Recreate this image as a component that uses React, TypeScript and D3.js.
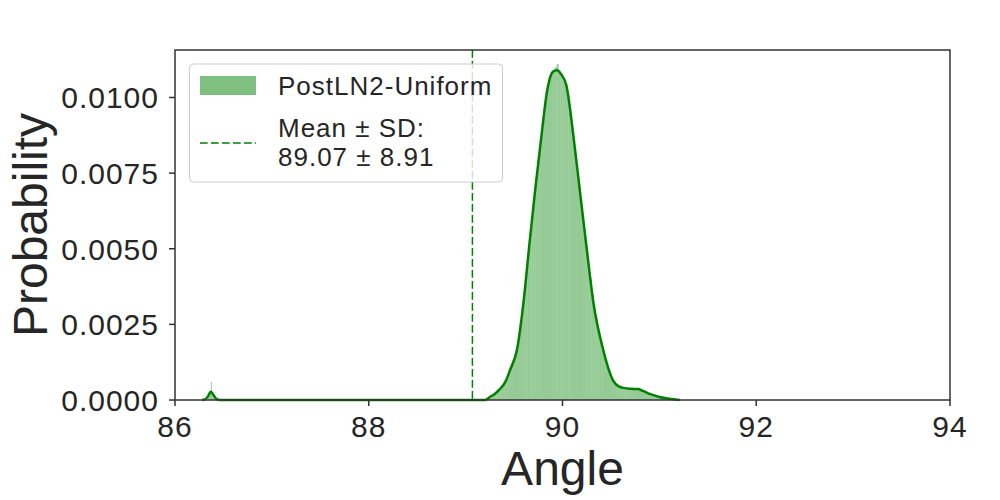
import React from "react";
import * as d3 from "d3";

// KDE curve (angle, density)
const kdeX = [
  86.28, 86.31, 86.34, 86.36, 86.37, 86.39, 86.41, 86.43, 86.46,
  89.2, 89.25, 89.3, 89.35, 89.41, 89.46, 89.53, 89.6, 89.66, 89.72, 89.785, 89.84, 89.9, 89.94,
  89.99, 90.04, 90.11, 90.18, 90.25, 90.32, 90.42, 90.52, 90.58, 90.63, 90.7, 90.78, 90.83,
  90.9, 91.0, 91.1, 91.21,
];
const kdeY = [
  0, 0.00002, 0.00012, 0.00024, 0.00027, 0.0002, 0.0001, 0.00003, 0,
  0, 0.0001, 0.0002, 0.00035, 0.0006, 0.001, 0.00166, 0.0033, 0.0052, 0.007, 0.0088,
  0.0102, 0.01085, 0.0109, 0.01075, 0.0104, 0.0088, 0.0069, 0.005, 0.0032, 0.00166,
  0.00066, 0.00045, 0.0004, 0.00037, 0.00036, 0.0003, 0.0002, 0.0001, 0.00004, 0,
];

// histogram: narrow bins around the small spike
const spikeStart = 86.34;
const spikeWidth = 0.01;
const spikeCounts = [0.00008, 0.00018, 0.00026, 0.0006, 0.00022, 0.00012, 0.00006, 0.00002];

// histogram: main body
const mainStart = 89.2;
const mainWidth = 0.02;
const mainCounts = [
  0.00002, 0.00004, 0.00008, 0.00012, 0.00017, 0.00022, 0.00028, 0.00035, 0.00042, 0.0005,
  0.0006, 0.00072, 0.00088, 0.00106, 0.00128, 0.00148, 0.00172, 0.0021, 0.0026, 0.0031,
  0.0036, 0.0042, 0.0049, 0.0055, 0.0061, 0.0067, 0.0073, 0.0079, 0.0084, 0.0089,
  0.0094, 0.0099, 0.0103, 0.0106, 0.0108, 0.0109, 0.011, 0.0111, 0.0109, 0.0108,
  0.0106, 0.0105, 0.0102, 0.0098, 0.0093, 0.0088, 0.0083, 0.0077, 0.0071, 0.0066,
  0.0061, 0.0055, 0.005, 0.0045, 0.004, 0.0035, 0.003, 0.0027, 0.0023, 0.002,
  0.0017, 0.00155, 0.0013, 0.0011, 0.0009, 0.0007, 0.0006, 0.00052, 0.00047, 0.00044,
  0.00042, 0.0004, 0.00039, 0.00038, 0.00037, 0.00036, 0.00036, 0.00036, 0.00037, 0.00037,
  0.00034, 0.0003, 0.00027, 0.00024, 0.00021, 0.00018, 0.00015, 0.00013, 0.00011, 0.0001,
  0.00009, 0.00007, 0.00006, 0.00005, 0.00004, 0.00003, 0.00002, 0.00002, 0.00001, 0.00001,
];

const meanAngle = 89.07;
const sdAngle = 8.91;
const seriesName = "PostLN2-Uniform";
const xTicks = [86, 88, 90, 92, 94];
const yTicks = [0, 0.0025, 0.005, 0.0075, 0.01];

const width = 1000;
const height = 500;
const margin = { left: 175, right: 50, top: 50, bottom: 100 };
const font = "'Liberation Sans', Arial, sans-serif";
const ink = "#262626";

export default function App() {
  const x = d3.scaleLinear().domain([86, 94]).range([margin.left, width - margin.right]);
  const y = d3.scaleLinear().domain([0, 0.01157]).range([height - margin.bottom, margin.top]);

  const bins = [
    ...spikeCounts.map((c, i) => ({ x0: spikeStart + i * spikeWidth, x1: spikeStart + (i + 1) * spikeWidth, c })),
    ...mainCounts.map((c, i) => ({ x0: mainStart + i * mainWidth, x1: mainStart + (i + 1) * mainWidth, c })),
  ];

  const kde = kdeX.map((v, i) => [v, kdeY[i]] as [number, number]);
  const line = d3
    .line<[number, number]>()
    .x((d) => x(d[0]))
    .y((d) => y(d[1]))
    .curve(d3.curveMonotoneX);

  const x0 = x.range()[0];
  const x1 = x.range()[1];
  const yb = y.range()[0];
  const yt = y.range()[1];

  return (
    <svg width={width} height={height} style={{ position: "absolute", left: 0, top: 0 }} fontFamily={font}>
      <rect width={width} height={height} fill="white" />
      {bins.map((b, i) => (
        <rect
          key={i}
          x={x(b.x0)}
          y={y(b.c)}
          width={x(b.x1) - x(b.x0)}
          height={yb - y(b.c)}
          fill="green"
          fillOpacity={0.42}
        />
      ))}
      <path d={line(kde) ?? ""} fill="none" stroke="green" strokeWidth={2.5} />
      <line x1={x(meanAngle)} x2={x(meanAngle)} y1={yt} y2={yb} stroke="green" strokeWidth={1.5} strokeDasharray="7.7,3.3" />

      {/* frame */}
      <rect x={x0} y={yt} width={x1 - x0} height={yb - yt} fill="none" stroke="#333" strokeWidth={1.5} />

      {xTicks.map((t) => (
        <g key={t}>
          <line x1={x(t)} x2={x(t)} y1={yb} y2={yb + 6} stroke="#333" strokeWidth={1.5} />
          <text x={x(t)} y={yb + 37} textAnchor="middle" fontSize={30} letterSpacing={1} fill={ink}>
            {t}
          </text>
        </g>
      ))}
      {yTicks.map((t) => (
        <g key={t}>
          <line x1={x0 - 6} x2={x0} y1={y(t)} y2={y(t)} stroke="#333" strokeWidth={1.5} />
          <text x={x0 - 16} y={y(t)} dy="0.36em" textAnchor="end" fontSize={30} letterSpacing={1} fill={ink}>
            {d3.format(".4f")(t)}
          </text>
        </g>
      ))}

      <text x={(x0 + x1) / 2} y={485} textAnchor="middle" fontSize={48} fill={ink}>
        Angle
      </text>
      <text transform={`translate(47,${(yt + yb) / 2}) rotate(-90)`} textAnchor="middle" fontSize={48} fill={ink}>
        Probability
      </text>

      {/* legend */}
      <g>
        <rect x={189.5} y={64} width={313} height={118} rx={4} fill="white" fillOpacity={0.8} stroke="#cccccc" strokeWidth={1} />
        <rect x={200} y={76} width={56} height={19} fill="green" fillOpacity={0.5} />
        <text x={278} y={95} fontSize={26} letterSpacing={1} fill={ink}>
          {seriesName}
        </text>
        <line x1={200} x2={256} y1={143} y2={143} stroke="green" strokeWidth={1.5} strokeDasharray="7.7,3.3" />
        <text x={278} y={137} fontSize={26} letterSpacing={1} fill={ink}>
          Mean ± SD:
        </text>
        <text x={278} y={166} fontSize={26} letterSpacing={1} fill={ink}>
          {`${meanAngle.toFixed(2)} ± ${sdAngle.toFixed(2)}`}
        </text>
      </g>
    </svg>
  );
}
